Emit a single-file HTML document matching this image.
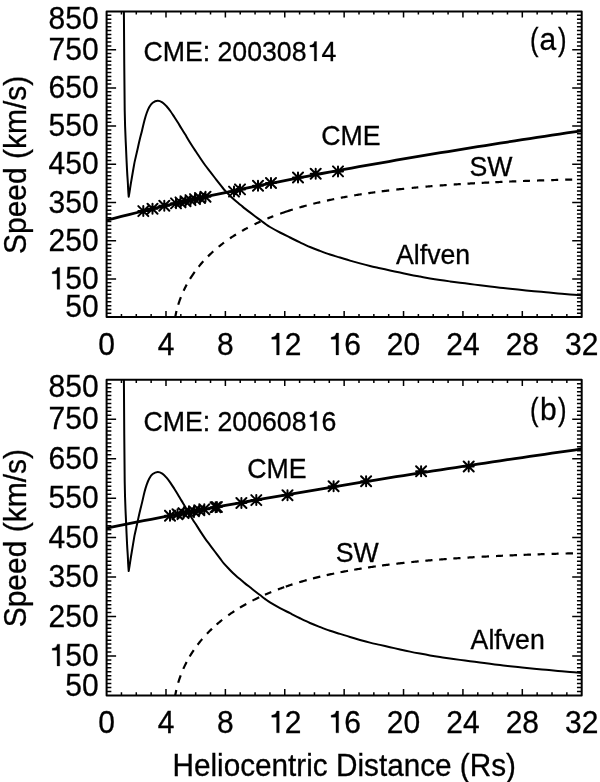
<!DOCTYPE html>
<html><head><meta charset="utf-8"><style>
html,body{margin:0;padding:0;background:#fff;}
svg{display:block;will-change:transform;}
text{font-family:"Liberation Sans",sans-serif;font-kerning:none;fill:#000;stroke:#000;stroke-width:0.3px;}
</style></head><body>
<svg width="600" height="782" viewBox="0 0 600 782">
<rect width="600" height="782" fill="#fff"/>
<rect x="106.60" y="11.50" width="475.10" height="305.60" fill="none" stroke="#000" stroke-width="2" stroke-linejoin="round"/>
<path d="M121.45,317.10v-3.06M121.45,11.50v3.06M136.29,317.10v-3.06M136.29,11.50v3.06M151.14,317.10v-3.06M151.14,11.50v3.06M165.99,317.10v-6.11M165.99,11.50v6.11M180.83,317.10v-3.06M180.83,11.50v3.06M195.68,317.10v-3.06M195.68,11.50v3.06M210.53,317.10v-3.06M210.53,11.50v3.06M225.38,317.10v-6.11M225.38,11.50v6.11M240.22,317.10v-3.06M240.22,11.50v3.06M255.07,317.10v-3.06M255.07,11.50v3.06M269.92,317.10v-3.06M269.92,11.50v3.06M284.76,317.10v-6.11M284.76,11.50v6.11M299.61,317.10v-3.06M299.61,11.50v3.06M314.46,317.10v-3.06M314.46,11.50v3.06M329.30,317.10v-3.06M329.30,11.50v3.06M344.15,317.10v-6.11M344.15,11.50v6.11M359.00,317.10v-3.06M359.00,11.50v3.06M373.84,317.10v-3.06M373.84,11.50v3.06M388.69,317.10v-3.06M388.69,11.50v3.06M403.54,317.10v-6.11M403.54,11.50v6.11M418.38,317.10v-3.06M418.38,11.50v3.06M433.23,317.10v-3.06M433.23,11.50v3.06M448.08,317.10v-3.06M448.08,11.50v3.06M462.93,317.10v-6.11M462.93,11.50v6.11M477.77,317.10v-3.06M477.77,11.50v3.06M492.62,317.10v-3.06M492.62,11.50v3.06M507.47,317.10v-3.06M507.47,11.50v3.06M522.31,317.10v-6.11M522.31,11.50v6.11M537.16,317.10v-3.06M537.16,11.50v3.06M552.01,317.10v-3.06M552.01,11.50v3.06M566.85,317.10v-3.06M566.85,11.50v3.06M106.60,313.28h4.75M581.70,313.28h-4.75M106.60,309.46h4.75M581.70,309.46h-4.75M106.60,305.64h4.75M581.70,305.64h-4.75M106.60,301.82h4.75M581.70,301.82h-4.75M106.60,298.00h4.75M581.70,298.00h-4.75M106.60,294.18h4.75M581.70,294.18h-4.75M106.60,290.36h4.75M581.70,290.36h-4.75M106.60,286.54h4.75M581.70,286.54h-4.75M106.60,282.72h4.75M581.70,282.72h-4.75M106.60,278.90h9.50M581.70,278.90h-9.50M106.60,275.08h4.75M581.70,275.08h-4.75M106.60,271.26h4.75M581.70,271.26h-4.75M106.60,267.44h4.75M581.70,267.44h-4.75M106.60,263.62h4.75M581.70,263.62h-4.75M106.60,259.80h4.75M581.70,259.80h-4.75M106.60,255.98h4.75M581.70,255.98h-4.75M106.60,252.16h4.75M581.70,252.16h-4.75M106.60,248.34h4.75M581.70,248.34h-4.75M106.60,244.52h4.75M581.70,244.52h-4.75M106.60,240.70h9.50M581.70,240.70h-9.50M106.60,236.88h4.75M581.70,236.88h-4.75M106.60,233.06h4.75M581.70,233.06h-4.75M106.60,229.24h4.75M581.70,229.24h-4.75M106.60,225.42h4.75M581.70,225.42h-4.75M106.60,221.60h4.75M581.70,221.60h-4.75M106.60,217.78h4.75M581.70,217.78h-4.75M106.60,213.96h4.75M581.70,213.96h-4.75M106.60,210.14h4.75M581.70,210.14h-4.75M106.60,206.32h4.75M581.70,206.32h-4.75M106.60,202.50h9.50M581.70,202.50h-9.50M106.60,198.68h4.75M581.70,198.68h-4.75M106.60,194.86h4.75M581.70,194.86h-4.75M106.60,191.04h4.75M581.70,191.04h-4.75M106.60,187.22h4.75M581.70,187.22h-4.75M106.60,183.40h4.75M581.70,183.40h-4.75M106.60,179.58h4.75M581.70,179.58h-4.75M106.60,175.76h4.75M581.70,175.76h-4.75M106.60,171.94h4.75M581.70,171.94h-4.75M106.60,168.12h4.75M581.70,168.12h-4.75M106.60,164.30h9.50M581.70,164.30h-9.50M106.60,160.48h4.75M581.70,160.48h-4.75M106.60,156.66h4.75M581.70,156.66h-4.75M106.60,152.84h4.75M581.70,152.84h-4.75M106.60,149.02h4.75M581.70,149.02h-4.75M106.60,145.20h4.75M581.70,145.20h-4.75M106.60,141.38h4.75M581.70,141.38h-4.75M106.60,137.56h4.75M581.70,137.56h-4.75M106.60,133.74h4.75M581.70,133.74h-4.75M106.60,129.92h4.75M581.70,129.92h-4.75M106.60,126.10h9.50M581.70,126.10h-9.50M106.60,122.28h4.75M581.70,122.28h-4.75M106.60,118.46h4.75M581.70,118.46h-4.75M106.60,114.64h4.75M581.70,114.64h-4.75M106.60,110.82h4.75M581.70,110.82h-4.75M106.60,107.00h4.75M581.70,107.00h-4.75M106.60,103.18h4.75M581.70,103.18h-4.75M106.60,99.36h4.75M581.70,99.36h-4.75M106.60,95.54h4.75M581.70,95.54h-4.75M106.60,91.72h4.75M581.70,91.72h-4.75M106.60,87.90h9.50M581.70,87.90h-9.50M106.60,84.08h4.75M581.70,84.08h-4.75M106.60,80.26h4.75M581.70,80.26h-4.75M106.60,76.44h4.75M581.70,76.44h-4.75M106.60,72.62h4.75M581.70,72.62h-4.75M106.60,68.80h4.75M581.70,68.80h-4.75M106.60,64.98h4.75M581.70,64.98h-4.75M106.60,61.16h4.75M581.70,61.16h-4.75M106.60,57.34h4.75M581.70,57.34h-4.75M106.60,53.52h4.75M581.70,53.52h-4.75M106.60,49.70h9.50M581.70,49.70h-9.50M106.60,45.88h4.75M581.70,45.88h-4.75M106.60,42.06h4.75M581.70,42.06h-4.75M106.60,38.24h4.75M581.70,38.24h-4.75M106.60,34.42h4.75M581.70,34.42h-4.75M106.60,30.60h4.75M581.70,30.60h-4.75M106.60,26.78h4.75M581.70,26.78h-4.75M106.60,22.96h4.75M581.70,22.96h-4.75M106.60,19.14h4.75M581.70,19.14h-4.75M106.60,15.32h4.75M581.70,15.32h-4.75" stroke="#000" stroke-width="1.5" fill="none"/>
<text transform="translate(98.60,317.25) scale(1.000,1.025)" font-size="30.00" text-anchor="end">50</text>
<text transform="translate(48.55,289.35) scale(1.000,1.025)" font-size="30.00"> 50</text><path transform="translate(48.55,289.35) scale(0.03000,-0.03075)" d="M372 0L284 0L284 508L122 508L122 572C220 580 268 612 292 709L372 709Z" fill="#000" stroke="#000" stroke-width="10.0"/>
<text transform="translate(98.60,251.05) scale(1.000,1.025)" font-size="30.00" text-anchor="end">250</text>
<text transform="translate(98.60,212.75) scale(1.000,1.025)" font-size="30.00" text-anchor="end">350</text>
<text transform="translate(98.60,174.45) scale(1.000,1.025)" font-size="30.00" text-anchor="end">450</text>
<text transform="translate(98.60,136.15) scale(1.000,1.025)" font-size="30.00" text-anchor="end">550</text>
<text transform="translate(98.60,97.85) scale(1.000,1.025)" font-size="30.00" text-anchor="end">650</text>
<text transform="translate(98.60,59.55) scale(1.000,1.025)" font-size="30.00" text-anchor="end">750</text>
<text transform="translate(98.60,29.35) scale(1.000,1.025)" font-size="30.00" text-anchor="end">850</text>
<text transform="translate(106.60,354.90) scale(1.000,1.025)" font-size="30.00" text-anchor="middle">0</text>
<text transform="translate(165.99,354.90) scale(1.000,1.025)" font-size="30.00" text-anchor="middle">4</text>
<text transform="translate(225.38,354.90) scale(1.000,1.025)" font-size="30.00" text-anchor="middle">8</text>
<text transform="translate(268.08,354.90) scale(1.000,1.025)" font-size="30.00"> 2</text><path transform="translate(268.08,354.90) scale(0.03000,-0.03075)" d="M372 0L284 0L284 508L122 508L122 572C220 580 268 612 292 709L372 709Z" fill="#000" stroke="#000" stroke-width="10.0"/>
<text transform="translate(327.47,354.90) scale(1.000,1.025)" font-size="30.00"> 6</text><path transform="translate(327.47,354.90) scale(0.03000,-0.03075)" d="M372 0L284 0L284 508L122 508L122 572C220 580 268 612 292 709L372 709Z" fill="#000" stroke="#000" stroke-width="10.0"/>
<text transform="translate(403.54,354.90) scale(1.000,1.025)" font-size="30.00" text-anchor="middle">20</text>
<text transform="translate(462.93,354.90) scale(1.000,1.025)" font-size="30.00" text-anchor="middle">24</text>
<text transform="translate(522.31,354.90) scale(1.000,1.025)" font-size="30.00" text-anchor="middle">28</text>
<text transform="translate(581.70,354.90) scale(1.000,1.025)" font-size="30.00" text-anchor="middle">32</text>
<text transform="translate(26.2,164.90) rotate(-90) scale(1.000,1.025)" text-anchor="middle" font-size="30">Speed (km/s)</text>
<path d="M123.90,11.50 C124.03,27.92 124.33,86.92 124.70,110.00 C125.07,133.08 125.70,139.82 126.10,150.00 C126.50,160.18 126.82,165.77 127.10,171.10 C127.38,176.43 127.62,178.85 127.80,182.00 C127.98,185.15 128.05,187.55 128.20,190.00 C128.35,192.45 128.70,196.70 128.70,196.70 C128.70,196.70 129.28,193.45 129.60,191.50 C129.92,189.55 130.23,187.25 130.60,185.00 C130.97,182.75 131.20,181.48 131.80,178.00 C132.40,174.52 133.63,167.20 134.20,164.10 C134.77,161.00 134.70,161.63 135.20,159.40 C135.70,157.17 136.48,153.85 137.20,150.70 C137.92,147.55 138.68,143.92 139.50,140.50 C140.32,137.08 141.27,133.58 142.10,130.20 C142.93,126.82 143.73,123.07 144.50,120.20 C145.27,117.33 145.90,115.20 146.70,113.00 C147.50,110.80 148.30,108.72 149.30,107.00 C150.30,105.28 151.30,103.75 152.70,102.70 C154.10,101.65 156.10,100.77 157.70,100.70 C159.30,100.63 160.87,101.42 162.30,102.30 C163.73,103.18 164.97,104.55 166.30,106.00 C167.63,107.45 168.97,109.17 170.30,111.00 C171.63,112.83 173.07,115.12 174.30,117.00 C175.53,118.88 176.50,120.38 177.70,122.30 C178.90,124.22 180.23,126.45 181.50,128.50 C182.77,130.55 184.17,132.73 185.30,134.60 C186.43,136.47 187.07,137.68 188.30,139.70 C189.53,141.72 191.30,144.53 192.70,146.70 C194.10,148.87 195.40,150.73 196.70,152.70 C198.00,154.67 199.12,156.45 200.50,158.50 C201.88,160.55 203.42,162.83 205.00,165.00 C206.58,167.17 208.33,169.33 210.00,171.50 C211.67,173.67 213.33,175.85 215.00,178.00 C216.67,180.15 218.50,182.48 220.00,184.40 C221.50,186.32 222.50,187.78 224.00,189.50 C225.50,191.22 227.47,193.15 229.00,194.70 C230.53,196.25 231.87,197.57 233.20,198.80 C234.53,200.03 235.70,201.02 237.00,202.10 C238.30,203.18 239.67,204.22 241.00,205.30 C242.33,206.38 243.50,207.42 245.00,208.60 C246.50,209.78 248.33,211.13 250.00,212.40 C251.67,213.67 253.33,214.95 255.00,216.20 C256.67,217.45 258.33,218.67 260.00,219.90 C261.67,221.13 263.33,222.42 265.00,223.60 C266.67,224.78 267.50,225.52 270.00,227.00 C272.50,228.48 276.67,230.75 280.00,232.50 C283.33,234.25 286.67,235.85 290.00,237.50 C293.33,239.15 296.67,240.82 300.00,242.40 C303.33,243.98 306.67,245.58 310.00,247.00 C313.33,248.42 316.67,249.65 320.00,250.90 C323.33,252.15 326.67,253.40 330.00,254.50 C333.33,255.60 336.67,256.48 340.00,257.50 C343.33,258.52 346.67,259.62 350.00,260.60 C353.33,261.58 356.67,262.50 360.00,263.40 C363.33,264.30 366.67,265.20 370.00,266.00 C373.33,266.80 376.67,267.47 380.00,268.20 C383.33,268.93 386.67,269.67 390.00,270.40 C393.33,271.13 396.67,271.88 400.00,272.60 C403.33,273.32 406.67,274.03 410.00,274.70 C413.33,275.37 416.67,275.98 420.00,276.60 C423.33,277.22 426.67,277.83 430.00,278.40 C433.33,278.97 436.67,279.50 440.00,280.00 C443.33,280.50 446.67,280.95 450.00,281.40 C453.33,281.85 456.67,282.27 460.00,282.70 C463.33,283.13 466.67,283.57 470.00,284.00 C473.33,284.43 476.67,284.88 480.00,285.30 C483.33,285.72 486.67,286.10 490.00,286.50 C493.33,286.90 496.67,287.32 500.00,287.70 C503.33,288.08 506.33,288.42 510.00,288.80 C513.67,289.18 518.00,289.60 522.00,290.00 C526.00,290.40 530.00,290.82 534.00,291.20 C538.00,291.58 542.00,291.93 546.00,292.30 C550.00,292.67 554.00,293.05 558.00,293.40 C562.00,293.75 566.05,294.08 570.00,294.40 C573.95,294.72 579.75,295.15 581.70,295.30" stroke="#000" stroke-width="2" fill="none" stroke-linejoin="round"/>
<path d="M175.22,317.10 L175.40,316.12 L175.59,315.19 L175.77,314.31 L175.95,313.45 L176.13,312.63 L176.32,311.84 L176.50,311.07M178.25,304.71 L178.63,303.51 L179.01,302.35 L179.39,301.24 L179.76,300.16 L180.14,299.12 L180.52,298.11 L180.90,297.13M183.60,290.81 L184.04,289.87 L184.49,288.95 L184.93,288.05 L185.37,287.17 L185.81,286.31 L186.26,285.47 L186.70,284.64M190.00,278.95 L190.67,277.88 L191.34,276.83 L192.01,275.80 L192.69,274.80 L193.36,273.82 L194.03,272.86 L194.70,271.92M198.70,266.69 L199.36,265.88 L200.01,265.09 L200.67,264.31 L201.33,263.54 L201.99,262.78 L202.64,262.04 L203.30,261.31M208.00,256.37 L208.76,255.62 L209.51,254.88 L210.27,254.16 L211.03,253.44 L211.79,252.73 L212.54,252.04 L213.30,251.35M218.70,246.74 L219.46,246.12 L220.21,245.52 L220.97,244.92 L221.73,244.33 L222.49,243.75 L223.24,243.18 L224.00,242.61M230.00,238.35 L230.86,237.77 L231.71,237.20 L232.57,236.64 L233.43,236.08 L234.29,235.53 L235.14,234.99 L236.00,234.46M242.00,230.89 L242.82,230.43 L243.64,229.97 L244.46,229.51 L245.29,229.06 L246.11,228.62 L246.93,228.18 L247.75,227.74M254.50,224.34 L255.36,223.93 L256.21,223.52 L257.07,223.11 L257.93,222.72 L258.79,222.32 L259.64,221.93 L260.50,221.55M267.40,218.58 L268.24,218.23 L269.09,217.89 L269.93,217.55 L270.77,217.21 L271.61,216.88 L272.46,216.55 L273.30,216.23M280.20,213.67 L282.00,213.04 L283.80,212.42 L285.60,211.81 L287.40,211.21 L289.20,210.63 L291.00,210.05 L292.80,209.49M299.40,207.51 L300.44,207.22 L301.49,206.92 L302.53,206.63 L303.57,206.34 L304.61,206.05 L305.66,205.77 L306.70,205.49M313.30,203.78 L314.30,203.53 L315.30,203.29 L316.30,203.04 L317.30,202.80 L318.30,202.56 L319.30,202.33 L320.30,202.09M327.00,200.59 L328.03,200.36 L329.06,200.14 L330.09,199.93 L331.11,199.71 L332.14,199.50 L333.17,199.28 L334.20,199.08M340.80,197.78 L341.76,197.60 L342.71,197.42 L343.67,197.24 L344.63,197.07 L345.59,196.89 L346.54,196.72 L347.50,196.55M354.20,195.39 L355.27,195.22 L356.34,195.04 L357.41,194.87 L358.49,194.69 L359.56,194.52 L360.63,194.35 L361.70,194.19M368.30,193.19 L369.30,193.05 L370.30,192.90 L371.30,192.76 L372.30,192.62 L373.30,192.48 L374.30,192.34 L375.30,192.20M381.70,191.35 L382.77,191.21 L383.84,191.08 L384.91,190.94 L385.99,190.81 L387.06,190.68 L388.13,190.55 L389.20,190.42M396.30,189.59 L397.43,189.46 L398.56,189.34 L399.69,189.21 L400.81,189.09 L401.94,188.97 L403.07,188.85 L404.20,188.73M411.70,187.97 L412.64,187.88 L413.59,187.78 L414.53,187.69 L415.47,187.60 L416.41,187.52 L417.36,187.43 L418.30,187.34M425.50,186.69 L426.50,186.61 L427.50,186.52 L428.50,186.44 L429.50,186.35 L430.50,186.27 L431.50,186.19 L432.50,186.11M439.70,185.54 L440.70,185.46 L441.70,185.39 L442.70,185.31 L443.70,185.24 L444.70,185.16 L445.70,185.09 L446.70,185.02M453.70,184.53 L454.71,184.46 L455.73,184.40 L456.74,184.33 L457.76,184.26 L458.77,184.20 L459.79,184.13 L460.80,184.07M467.50,183.65 L468.57,183.59 L469.64,183.53 L470.71,183.47 L471.79,183.40 L472.86,183.34 L473.93,183.28 L475.00,183.22M481.70,182.86 L482.77,182.80 L483.84,182.74 L484.91,182.69 L485.99,182.63 L487.06,182.58 L488.13,182.53 L489.20,182.47M495.30,182.18 L496.33,182.13 L497.36,182.08 L498.39,182.04 L499.41,181.99 L500.44,181.94 L501.47,181.90 L502.50,181.85M509.20,181.56 L510.21,181.52 L511.23,181.48 L512.24,181.44 L513.26,181.40 L514.27,181.36 L515.29,181.32 L516.30,181.28M523.00,181.02 L524.00,180.98 L525.00,180.95 L526.00,180.91 L527.00,180.88 L528.00,180.84 L529.00,180.80 L530.00,180.77M537.00,180.53 L538.03,180.50 L539.06,180.47 L540.09,180.43 L541.11,180.40 L542.14,180.37 L543.17,180.34 L544.20,180.30M551.20,180.09 L552.20,180.07 L553.20,180.04 L554.20,180.01 L555.20,179.98 L556.20,179.95 L557.20,179.92 L558.20,179.90M565.20,179.71 L566.20,179.68 L567.20,179.66 L568.20,179.63 L569.20,179.61 L570.20,179.58 L571.20,179.56 L572.20,179.54" stroke="#000" stroke-width="2.2" fill="none"/>
<path d="M106.60,220.26 L114.02,218.33 L121.45,216.44 L128.87,214.58 L136.29,212.75 L143.72,210.94 L151.14,209.16 L158.56,207.41 L165.99,205.67 L173.41,203.97 L180.83,202.28 L188.26,200.61 L195.68,198.96 L203.10,197.34 L210.53,195.73 L217.95,194.14 L225.38,192.57 L232.80,191.01 L240.22,189.47 L247.65,187.95 L255.07,186.44 L262.49,184.95 L269.92,183.47 L277.34,182.01 L284.76,180.56 L292.19,179.12 L299.61,177.70 L307.03,176.29 L314.46,174.89 L321.88,173.50 L329.30,172.13 L336.73,170.76 L344.15,169.41 L351.57,168.07 L359.00,166.74 L366.42,165.42 L373.84,164.11 L381.27,162.81 L388.69,161.52 L396.11,160.24 L403.54,158.97 L410.96,157.70 L418.38,156.45 L425.81,155.20 L433.23,153.97 L440.65,152.74 L448.08,151.52 L455.50,150.31 L462.93,149.10 L470.35,147.91 L477.77,146.72 L485.20,145.53 L492.62,144.36 L500.04,143.19 L507.47,142.03 L514.89,140.88 L522.31,139.73 L529.74,138.59 L537.16,137.46 L544.58,136.33 L552.01,135.21 L559.43,134.10 L566.85,132.99 L574.28,131.89 L581.70,130.79" stroke="#000" stroke-width="2.8" fill="none"/>
<path d="M143.30,206.10v10.00M138.30,211.10h10.00M138.30,206.10l10.00,10.00M138.30,216.10l10.00,-10.00M152.50,203.80v10.00M147.50,208.80h10.00M147.50,203.80l10.00,10.00M147.50,213.80l10.00,-10.00M164.30,200.80v10.00M159.30,205.80h10.00M159.30,200.80l10.00,10.00M159.30,210.80l10.00,-10.00M176.00,198.37v10.00M171.00,203.37h10.00M171.00,198.37l10.00,10.00M171.00,208.37l10.00,-10.00M180.50,197.35v10.00M175.50,202.35h10.00M175.50,197.35l10.00,10.00M175.50,207.35l10.00,-10.00M185.50,196.23v10.00M180.50,201.23h10.00M180.50,196.23l10.00,10.00M180.50,206.23l10.00,-10.00M190.50,195.11v10.00M185.50,200.11h10.00M185.50,195.11l10.00,10.00M185.50,205.11l10.00,-10.00M195.00,194.11v10.00M190.00,199.11h10.00M190.00,194.11l10.00,10.00M190.00,204.11l10.00,-10.00M200.00,193.02v10.00M195.00,198.02h10.00M195.00,193.02l10.00,10.00M195.00,203.02l10.00,-10.00M205.50,191.82v10.00M200.50,196.82h10.00M200.50,191.82l10.00,10.00M200.50,201.82l10.00,-10.00M234.00,186.60v10.00M229.00,191.60h10.00M229.00,186.60l10.00,10.00M229.00,196.60l10.00,-10.00M240.00,184.40v10.00M235.00,189.40h10.00M235.00,184.40l10.00,10.00M235.00,194.40l10.00,-10.00M258.00,180.80v10.00M253.00,185.80h10.00M253.00,180.80l10.00,10.00M253.00,190.80l10.00,-10.00M271.00,178.00v10.00M266.00,183.00h10.00M266.00,178.00l10.00,10.00M266.00,188.00l10.00,-10.00M298.00,172.50v10.00M293.00,177.50h10.00M293.00,172.50l10.00,10.00M293.00,182.50l10.00,-10.00M315.70,168.70v10.00M310.70,173.70h10.00M310.70,168.70l10.00,10.00M310.70,178.70l10.00,-10.00M338.00,166.40v10.00M333.00,171.40h10.00M333.00,166.40l10.00,10.00M333.00,176.40l10.00,-10.00" stroke="#000" stroke-width="2" fill="none" stroke-linecap="round"/>
<text transform="translate(143.40,60.90) scale(1.000,1.025)" font-size="26.70">CME: 200308 4</text><path transform="translate(306.66,60.90) scale(0.02670,-0.02737)" d="M372 0L284 0L284 508L122 508L122 572C220 580 268 612 292 709L372 709Z" fill="#000" stroke="#000" stroke-width="11.2"/>
<text transform="translate(321.30,145.30) scale(1.000,1.025)" font-size="26.70">CME</text>
<text transform="translate(469.50,175.60) scale(1.000,1.025)" font-size="26.70">SW</text>
<text transform="translate(396.00,264.20) scale(1.000,1.025)" font-size="26.70">Alfven</text>
<text transform="translate(529.96,50.04) scale(0.855,1.057)" font-size="30.00">(</text>
<text transform="translate(539.60,50.00) scale(1.000,1.045)" font-size="30.00">a</text>
<text transform="translate(558.00,50.04) scale(0.855,1.057)" font-size="30.00">)</text>
<rect x="106.60" y="379.80" width="475.10" height="315.60" fill="none" stroke="#000" stroke-width="2" stroke-linejoin="round"/>
<path d="M121.45,695.40v-3.16M121.45,379.80v3.16M136.29,695.40v-3.16M136.29,379.80v3.16M151.14,695.40v-3.16M151.14,379.80v3.16M165.99,695.40v-6.31M165.99,379.80v6.31M180.83,695.40v-3.16M180.83,379.80v3.16M195.68,695.40v-3.16M195.68,379.80v3.16M210.53,695.40v-3.16M210.53,379.80v3.16M225.38,695.40v-6.31M225.38,379.80v6.31M240.22,695.40v-3.16M240.22,379.80v3.16M255.07,695.40v-3.16M255.07,379.80v3.16M269.92,695.40v-3.16M269.92,379.80v3.16M284.76,695.40v-6.31M284.76,379.80v6.31M299.61,695.40v-3.16M299.61,379.80v3.16M314.46,695.40v-3.16M314.46,379.80v3.16M329.30,695.40v-3.16M329.30,379.80v3.16M344.15,695.40v-6.31M344.15,379.80v6.31M359.00,695.40v-3.16M359.00,379.80v3.16M373.84,695.40v-3.16M373.84,379.80v3.16M388.69,695.40v-3.16M388.69,379.80v3.16M403.54,695.40v-6.31M403.54,379.80v6.31M418.38,695.40v-3.16M418.38,379.80v3.16M433.23,695.40v-3.16M433.23,379.80v3.16M448.08,695.40v-3.16M448.08,379.80v3.16M462.93,695.40v-6.31M462.93,379.80v6.31M477.77,695.40v-3.16M477.77,379.80v3.16M492.62,695.40v-3.16M492.62,379.80v3.16M507.47,695.40v-3.16M507.47,379.80v3.16M522.31,695.40v-6.31M522.31,379.80v6.31M537.16,695.40v-3.16M537.16,379.80v3.16M552.01,695.40v-3.16M552.01,379.80v3.16M566.85,695.40v-3.16M566.85,379.80v3.16M106.60,691.45h4.75M581.70,691.45h-4.75M106.60,687.51h4.75M581.70,687.51h-4.75M106.60,683.56h4.75M581.70,683.56h-4.75M106.60,679.62h4.75M581.70,679.62h-4.75M106.60,675.67h4.75M581.70,675.67h-4.75M106.60,671.73h4.75M581.70,671.73h-4.75M106.60,667.78h4.75M581.70,667.78h-4.75M106.60,663.84h4.75M581.70,663.84h-4.75M106.60,659.89h4.75M581.70,659.89h-4.75M106.60,655.95h9.50M581.70,655.95h-9.50M106.60,652.00h4.75M581.70,652.00h-4.75M106.60,648.06h4.75M581.70,648.06h-4.75M106.60,644.12h4.75M581.70,644.12h-4.75M106.60,640.17h4.75M581.70,640.17h-4.75M106.60,636.23h4.75M581.70,636.23h-4.75M106.60,632.28h4.75M581.70,632.28h-4.75M106.60,628.34h4.75M581.70,628.34h-4.75M106.60,624.39h4.75M581.70,624.39h-4.75M106.60,620.44h4.75M581.70,620.44h-4.75M106.60,616.50h9.50M581.70,616.50h-9.50M106.60,612.55h4.75M581.70,612.55h-4.75M106.60,608.61h4.75M581.70,608.61h-4.75M106.60,604.66h4.75M581.70,604.66h-4.75M106.60,600.72h4.75M581.70,600.72h-4.75M106.60,596.77h4.75M581.70,596.77h-4.75M106.60,592.83h4.75M581.70,592.83h-4.75M106.60,588.88h4.75M581.70,588.88h-4.75M106.60,584.94h4.75M581.70,584.94h-4.75M106.60,581.00h4.75M581.70,581.00h-4.75M106.60,577.05h9.50M581.70,577.05h-9.50M106.60,573.11h4.75M581.70,573.11h-4.75M106.60,569.16h4.75M581.70,569.16h-4.75M106.60,565.22h4.75M581.70,565.22h-4.75M106.60,561.27h4.75M581.70,561.27h-4.75M106.60,557.33h4.75M581.70,557.33h-4.75M106.60,553.38h4.75M581.70,553.38h-4.75M106.60,549.43h4.75M581.70,549.43h-4.75M106.60,545.49h4.75M581.70,545.49h-4.75M106.60,541.54h4.75M581.70,541.54h-4.75M106.60,537.60h9.50M581.70,537.60h-9.50M106.60,533.65h4.75M581.70,533.65h-4.75M106.60,529.71h4.75M581.70,529.71h-4.75M106.60,525.76h4.75M581.70,525.76h-4.75M106.60,521.82h4.75M581.70,521.82h-4.75M106.60,517.88h4.75M581.70,517.88h-4.75M106.60,513.93h4.75M581.70,513.93h-4.75M106.60,509.99h4.75M581.70,509.99h-4.75M106.60,506.04h4.75M581.70,506.04h-4.75M106.60,502.10h4.75M581.70,502.10h-4.75M106.60,498.15h9.50M581.70,498.15h-9.50M106.60,494.21h4.75M581.70,494.21h-4.75M106.60,490.26h4.75M581.70,490.26h-4.75M106.60,486.32h4.75M581.70,486.32h-4.75M106.60,482.37h4.75M581.70,482.37h-4.75M106.60,478.43h4.75M581.70,478.43h-4.75M106.60,474.48h4.75M581.70,474.48h-4.75M106.60,470.54h4.75M581.70,470.54h-4.75M106.60,466.59h4.75M581.70,466.59h-4.75M106.60,462.64h4.75M581.70,462.64h-4.75M106.60,458.70h9.50M581.70,458.70h-9.50M106.60,454.75h4.75M581.70,454.75h-4.75M106.60,450.81h4.75M581.70,450.81h-4.75M106.60,446.87h4.75M581.70,446.87h-4.75M106.60,442.92h4.75M581.70,442.92h-4.75M106.60,438.98h4.75M581.70,438.98h-4.75M106.60,435.03h4.75M581.70,435.03h-4.75M106.60,431.09h4.75M581.70,431.09h-4.75M106.60,427.14h4.75M581.70,427.14h-4.75M106.60,423.19h4.75M581.70,423.19h-4.75M106.60,419.25h9.50M581.70,419.25h-9.50M106.60,415.31h4.75M581.70,415.31h-4.75M106.60,411.36h4.75M581.70,411.36h-4.75M106.60,407.42h4.75M581.70,407.42h-4.75M106.60,403.47h4.75M581.70,403.47h-4.75M106.60,399.53h4.75M581.70,399.53h-4.75M106.60,395.58h4.75M581.70,395.58h-4.75M106.60,391.63h4.75M581.70,391.63h-4.75M106.60,387.69h4.75M581.70,387.69h-4.75M106.60,383.75h4.75M581.70,383.75h-4.75" stroke="#000" stroke-width="1.5" fill="none"/>
<text transform="translate(98.60,695.85) scale(1.000,1.025)" font-size="30.00" text-anchor="end">50</text>
<text transform="translate(48.55,665.95) scale(1.000,1.025)" font-size="30.00"> 50</text><path transform="translate(48.55,665.95) scale(0.03000,-0.03075)" d="M372 0L284 0L284 508L122 508L122 572C220 580 268 612 292 709L372 709Z" fill="#000" stroke="#000" stroke-width="10.0"/>
<text transform="translate(98.60,626.52) scale(1.000,1.025)" font-size="30.00" text-anchor="end">250</text>
<text transform="translate(98.60,587.08) scale(1.000,1.025)" font-size="30.00" text-anchor="end">350</text>
<text transform="translate(98.60,547.65) scale(1.000,1.025)" font-size="30.00" text-anchor="end">450</text>
<text transform="translate(98.60,508.22) scale(1.000,1.025)" font-size="30.00" text-anchor="end">550</text>
<text transform="translate(98.60,468.78) scale(1.000,1.025)" font-size="30.00" text-anchor="end">650</text>
<text transform="translate(98.60,429.35) scale(1.000,1.025)" font-size="30.00" text-anchor="end">750</text>
<text transform="translate(98.60,397.45) scale(1.000,1.025)" font-size="30.00" text-anchor="end">850</text>
<text transform="translate(106.60,732.85) scale(1.000,1.025)" font-size="30.00" text-anchor="middle">0</text>
<text transform="translate(165.99,732.85) scale(1.000,1.025)" font-size="30.00" text-anchor="middle">4</text>
<text transform="translate(225.38,732.85) scale(1.000,1.025)" font-size="30.00" text-anchor="middle">8</text>
<text transform="translate(268.08,732.85) scale(1.000,1.025)" font-size="30.00"> 2</text><path transform="translate(268.08,732.85) scale(0.03000,-0.03075)" d="M372 0L284 0L284 508L122 508L122 572C220 580 268 612 292 709L372 709Z" fill="#000" stroke="#000" stroke-width="10.0"/>
<text transform="translate(327.47,732.85) scale(1.000,1.025)" font-size="30.00"> 6</text><path transform="translate(327.47,732.85) scale(0.03000,-0.03075)" d="M372 0L284 0L284 508L122 508L122 572C220 580 268 612 292 709L372 709Z" fill="#000" stroke="#000" stroke-width="10.0"/>
<text transform="translate(403.54,732.85) scale(1.000,1.025)" font-size="30.00" text-anchor="middle">20</text>
<text transform="translate(462.93,732.85) scale(1.000,1.025)" font-size="30.00" text-anchor="middle">24</text>
<text transform="translate(522.31,732.85) scale(1.000,1.025)" font-size="30.00" text-anchor="middle">28</text>
<text transform="translate(581.70,732.85) scale(1.000,1.025)" font-size="30.00" text-anchor="middle">32</text>
<text transform="translate(26.2,538.20) rotate(-90) scale(1.000,1.025)" text-anchor="middle" font-size="30">Speed (km/s)</text>
<path d="M123.90,379.80 C124.03,396.75 124.33,457.68 124.70,481.52 C125.07,505.36 125.70,512.32 126.10,522.83 C126.50,533.35 126.82,539.11 127.10,544.62 C127.38,550.13 127.62,552.63 127.80,555.88 C127.98,559.13 128.05,561.61 128.20,564.14 C128.35,566.67 128.70,571.06 128.70,571.06 C128.70,571.06 129.28,567.70 129.60,565.69 C129.92,563.68 130.23,561.30 130.60,558.98 C130.97,556.65 131.20,555.35 131.80,551.75 C132.40,548.15 133.63,540.59 134.20,537.39 C134.77,534.19 134.70,534.85 135.20,532.54 C135.70,530.23 136.48,526.81 137.20,523.55 C137.92,520.30 138.68,516.55 139.50,513.02 C140.32,509.49 141.27,505.88 142.10,502.38 C142.93,498.89 143.73,495.02 144.50,492.06 C145.27,489.10 145.90,486.89 146.70,484.62 C147.50,482.35 148.30,480.20 149.30,478.43 C150.30,476.65 151.30,475.07 152.70,473.98 C154.10,472.90 156.10,471.99 157.70,471.92 C159.30,471.85 160.87,472.66 162.30,473.57 C163.73,474.48 164.97,475.89 166.30,477.39 C167.63,478.89 168.97,480.66 170.30,482.56 C171.63,484.45 173.07,486.81 174.30,488.75 C175.53,490.70 176.50,492.25 177.70,494.23 C178.90,496.21 180.23,498.51 181.50,500.63 C182.77,502.75 184.17,505.00 185.30,506.93 C186.43,508.86 187.07,510.11 188.30,512.20 C189.53,514.28 191.30,517.19 192.70,519.42 C194.10,521.66 195.40,523.59 196.70,525.62 C198.00,527.65 199.12,529.49 200.50,531.61 C201.88,533.73 203.42,536.09 205.00,538.32 C206.58,540.56 208.33,542.80 210.00,545.04 C211.67,547.27 213.33,549.53 215.00,551.75 C216.67,553.97 218.50,556.38 220.00,558.36 C221.50,560.34 222.50,561.85 224.00,563.62 C225.50,565.40 227.47,567.39 229.00,568.99 C230.53,570.60 231.87,571.96 233.20,573.23 C234.53,574.50 235.70,575.52 237.00,576.64 C238.30,577.76 239.67,578.82 241.00,579.94 C242.33,581.06 243.50,582.13 245.00,583.35 C246.50,584.57 248.33,585.97 250.00,587.27 C251.67,588.58 253.33,589.91 255.00,591.20 C256.67,592.49 258.33,593.75 260.00,595.02 C261.67,596.29 263.33,597.62 265.00,598.84 C266.67,600.06 267.50,600.82 270.00,602.35 C272.50,603.88 276.67,606.22 280.00,608.03 C283.33,609.84 286.67,611.49 290.00,613.20 C293.33,614.90 296.67,616.62 300.00,618.26 C303.33,619.89 306.67,621.54 310.00,623.01 C313.33,624.47 316.67,625.74 320.00,627.03 C323.33,628.32 326.67,629.62 330.00,630.75 C333.33,631.89 336.67,632.80 340.00,633.85 C343.33,634.90 346.67,636.04 350.00,637.05 C353.33,638.07 356.67,639.01 360.00,639.94 C363.33,640.87 366.67,641.80 370.00,642.63 C373.33,643.45 376.67,644.14 380.00,644.90 C383.33,645.66 386.67,646.41 390.00,647.17 C393.33,647.93 396.67,648.70 400.00,649.44 C403.33,650.18 406.67,650.92 410.00,651.61 C413.33,652.30 416.67,652.94 420.00,653.57 C423.33,654.21 426.67,654.85 430.00,655.43 C433.33,656.02 436.67,656.57 440.00,657.09 C443.33,657.60 446.67,658.07 450.00,658.53 C453.33,659.00 456.67,659.43 460.00,659.87 C463.33,660.32 466.67,660.77 470.00,661.22 C473.33,661.66 476.67,662.13 480.00,662.56 C483.33,662.99 486.67,663.39 490.00,663.80 C493.33,664.21 496.67,664.64 500.00,665.04 C503.33,665.43 506.33,665.78 510.00,666.17 C513.67,666.57 518.00,667.00 522.00,667.41 C526.00,667.83 530.00,668.26 534.00,668.65 C538.00,669.05 542.00,669.41 546.00,669.79 C550.00,670.17 554.00,670.56 558.00,670.92 C562.00,671.29 566.05,671.63 570.00,671.96 C573.95,672.28 579.75,672.73 581.70,672.89" stroke="#000" stroke-width="2" fill="none" stroke-linejoin="round"/>
<path d="M175.22,695.40 L175.38,694.55 L175.53,693.73 L175.68,692.94 L175.84,692.18 L175.99,691.45 L176.15,690.73 L176.30,690.04M178.20,682.78 L178.56,681.60 L178.91,680.46 L179.27,679.36 L179.63,678.30 L179.99,677.27 L180.34,676.27 L180.70,675.30M183.30,668.92 L183.77,667.87 L184.24,666.85 L184.71,665.85 L185.19,664.87 L185.66,663.92 L186.13,662.98 L186.60,662.07M189.70,656.50 L190.27,655.55 L190.84,654.61 L191.41,653.70 L191.99,652.80 L192.56,651.92 L193.13,651.05 L193.70,650.20M197.60,644.77 L198.26,643.91 L198.91,643.07 L199.57,642.24 L200.23,641.42 L200.89,640.62 L201.54,639.83 L202.20,639.05M207.00,633.72 L207.71,632.98 L208.43,632.24 L209.14,631.52 L209.86,630.81 L210.57,630.10 L211.29,629.41 L212.00,628.72M216.60,624.53 L217.40,623.84 L218.20,623.16 L219.00,622.48 L219.80,621.82 L220.60,621.16 L221.40,620.51 L222.20,619.88M228.30,615.28 L229.16,614.66 L230.01,614.06 L230.87,613.46 L231.73,612.88 L232.59,612.30 L233.44,611.72 L234.30,611.16M240.00,607.57 L240.90,607.03 L241.80,606.49 L242.70,605.96 L243.60,605.44 L244.50,604.93 L245.40,604.42 L246.30,603.92M252.50,600.61 L253.46,600.13 L254.41,599.64 L255.37,599.17 L256.33,598.70 L257.29,598.24 L258.24,597.78 L259.20,597.32M265.00,594.69 L265.89,594.30 L266.79,593.92 L267.68,593.54 L268.57,593.16 L269.46,592.79 L270.36,592.42 L271.25,592.05M277.90,589.44 L278.80,589.11 L279.70,588.77 L280.60,588.44 L281.50,588.11 L282.40,587.79 L283.30,587.47 L284.20,587.15M285.80,586.59 L286.76,586.26 L287.71,585.94 L288.67,585.62 L289.63,585.30 L290.59,584.98 L291.54,584.67 L292.50,584.36M299.20,582.29 L300.27,581.97 L301.34,581.66 L302.41,581.34 L303.49,581.04 L304.56,580.73 L305.63,580.43 L306.70,580.13M313.00,578.45 L314.04,578.18 L315.09,577.92 L316.13,577.65 L317.17,577.39 L318.21,577.14 L319.26,576.88 L320.30,576.63M326.70,575.14 L327.77,574.90 L328.84,574.66 L329.91,574.43 L330.99,574.20 L332.06,573.97 L333.13,573.74 L334.20,573.51M340.50,572.24 L341.57,572.03 L342.64,571.82 L343.71,571.61 L344.79,571.41 L345.86,571.21 L346.93,571.01 L348.00,570.81M354.20,569.71 L355.27,569.53 L356.34,569.35 L357.41,569.17 L358.49,568.99 L359.56,568.81 L360.63,568.64 L361.70,568.46M368.00,567.48 L369.11,567.31 L370.23,567.15 L371.34,566.98 L372.46,566.82 L373.57,566.66 L374.69,566.50 L375.80,566.34M382.00,565.50 L383.09,565.35 L384.17,565.21 L385.26,565.07 L386.34,564.93 L387.43,564.79 L388.51,564.66 L389.60,564.52M396.30,563.72 L397.47,563.58 L398.64,563.45 L399.81,563.31 L400.99,563.18 L402.16,563.05 L403.33,562.92 L404.50,562.80M411.30,562.08 L412.36,561.98 L413.41,561.87 L414.47,561.76 L415.53,561.66 L416.59,561.56 L417.64,561.46 L418.70,561.36M425.30,560.75 L426.33,560.65 L427.36,560.56 L428.39,560.47 L429.41,560.38 L430.44,560.29 L431.47,560.21 L432.50,560.12M439.20,559.57 L440.27,559.49 L441.34,559.40 L442.41,559.32 L443.49,559.24 L444.56,559.16 L445.63,559.08 L446.70,559.00M453.30,558.52 L454.33,558.45 L455.36,558.38 L456.39,558.31 L457.41,558.24 L458.44,558.17 L459.47,558.10 L460.50,558.03M467.50,557.59 L468.51,557.53 L469.53,557.46 L470.54,557.40 L471.56,557.34 L472.57,557.28 L473.59,557.22 L474.60,557.16M481.60,556.77 L482.66,556.71 L483.71,556.65 L484.77,556.60 L485.83,556.54 L486.89,556.49 L487.94,556.43 L489.00,556.38M496.00,556.03 L497.00,555.98 L498.00,555.93 L499.00,555.89 L500.00,555.84 L501.00,555.79 L502.00,555.75 L503.00,555.70M509.60,555.41 L510.66,555.37 L511.71,555.32 L512.77,555.28 L513.83,555.23 L514.89,555.19 L515.94,555.15 L517.00,555.10M523.60,554.85 L524.66,554.81 L525.71,554.77 L526.77,554.73 L527.83,554.69 L528.89,554.65 L529.94,554.61 L531.00,554.57M537.60,554.34 L538.60,554.31 L539.60,554.28 L540.60,554.24 L541.60,554.21 L542.60,554.18 L543.60,554.15 L544.60,554.11M551.60,553.90 L552.60,553.87 L553.60,553.84 L554.60,553.81 L555.60,553.78 L556.60,553.75 L557.60,553.72 L558.60,553.70M565.60,553.50 L566.66,553.48 L567.71,553.45 L568.77,553.42 L569.83,553.39 L570.89,553.37 L571.94,553.34 L573.00,553.31" stroke="#000" stroke-width="2.2" fill="none"/>
<path d="M106.60,528.05 L114.02,526.56 L121.45,525.08 L128.87,523.61 L136.29,522.16 L143.72,520.71 L151.14,519.28 L158.56,517.85 L165.99,516.44 L173.41,515.03 L180.83,513.64 L188.26,512.26 L195.68,510.88 L203.10,509.51 L210.53,508.16 L217.95,506.81 L225.38,505.47 L232.80,504.14 L240.22,502.81 L247.65,501.50 L255.07,500.19 L262.49,498.89 L269.92,497.60 L277.34,496.32 L284.76,495.04 L292.19,493.78 L299.61,492.52 L307.03,491.26 L314.46,490.01 L321.88,488.77 L329.30,487.54 L336.73,486.31 L344.15,485.09 L351.57,483.88 L359.00,482.67 L366.42,481.47 L373.84,480.28 L381.27,479.09 L388.69,477.90 L396.11,476.73 L403.54,475.55 L410.96,474.39 L418.38,473.23 L425.81,472.07 L433.23,470.92 L440.65,469.78 L448.08,468.64 L455.50,467.51 L462.93,466.38 L470.35,465.26 L477.77,464.14 L485.20,463.03 L492.62,461.92 L500.04,460.82 L507.47,459.72 L514.89,458.62 L522.31,457.53 L529.74,456.45 L537.16,455.37 L544.58,454.29 L552.01,453.22 L559.43,452.16 L566.85,451.09 L574.28,450.04 L581.70,448.98" stroke="#000" stroke-width="2.8" fill="none"/>
<path d="M170.00,510.68v10.00M165.00,515.68h10.00M165.00,510.68l10.00,10.00M165.00,520.68l10.00,-10.00M177.50,509.26v10.00M172.50,514.26h10.00M172.50,509.26l10.00,10.00M172.50,519.26l10.00,-10.00M183.50,508.14v10.00M178.50,513.14h10.00M178.50,508.14l10.00,10.00M178.50,518.14l10.00,-10.00M189.00,507.12v10.00M184.00,512.12h10.00M184.00,507.12l10.00,10.00M184.00,517.12l10.00,-10.00M194.00,506.19v10.00M189.00,511.19h10.00M189.00,506.19l10.00,10.00M189.00,516.19l10.00,-10.00M199.30,505.21v10.00M194.30,510.21h10.00M194.30,505.21l10.00,10.00M194.30,515.21l10.00,-10.00M204.30,504.29v10.00M199.30,509.29h10.00M199.30,504.29l10.00,10.00M199.30,514.29l10.00,-10.00M215.60,502.23v10.00M210.60,507.23h10.00M210.60,502.23l10.00,10.00M210.60,512.23l10.00,-10.00M216.90,502.00v10.00M211.90,507.00h10.00M211.90,502.00l10.00,10.00M211.90,512.00l10.00,-10.00M241.40,498.00v10.00M236.40,503.00h10.00M236.40,498.00l10.00,10.00M236.40,508.00l10.00,-10.00M256.30,495.10v10.00M251.30,500.10h10.00M251.30,495.10l10.00,10.00M251.30,505.10l10.00,-10.00M287.50,490.20v10.00M282.50,495.20h10.00M282.50,490.20l10.00,10.00M282.50,500.20l10.00,-10.00M333.60,481.20v10.00M328.60,486.20h10.00M328.60,481.20l10.00,10.00M328.60,491.20l10.00,-10.00M366.10,476.25v10.00M361.10,481.25h10.00M361.10,476.25l10.00,10.00M361.10,486.25l10.00,-10.00M421.10,466.25v10.00M416.10,471.25h10.00M416.10,466.25l10.00,10.00M416.10,476.25l10.00,-10.00M468.70,461.50v10.00M463.70,466.50h10.00M463.70,461.50l10.00,10.00M463.70,471.50l10.00,-10.00" stroke="#000" stroke-width="2" fill="none" stroke-linecap="round"/>
<text transform="translate(143.40,430.70) scale(1.000,1.025)" font-size="26.70">CME: 200608 6</text><path transform="translate(306.66,430.70) scale(0.02670,-0.02737)" d="M372 0L284 0L284 508L122 508L122 572C220 580 268 612 292 709L372 709Z" fill="#000" stroke="#000" stroke-width="11.2"/>
<text transform="translate(247.20,478.40) scale(1.000,1.025)" font-size="26.70">CME</text>
<text transform="translate(335.70,561.70) scale(1.000,1.025)" font-size="26.70">SW</text>
<text transform="translate(470.60,648.60) scale(1.000,1.025)" font-size="26.70">Alfven</text>
<text transform="translate(529.96,420.04) scale(0.855,1.057)" font-size="30.00">(</text>
<text transform="translate(540.10,420.00) scale(1.000,1.045)" font-size="30.00">b</text>
<text transform="translate(558.00,420.04) scale(0.855,1.057)" font-size="30.00">)</text>
<text transform="translate(344.20,775.90) scale(0.991,1.025)" font-size="30.00" text-anchor="middle">Heliocentric Distance (Rs)</text>
</svg>
</body></html>
